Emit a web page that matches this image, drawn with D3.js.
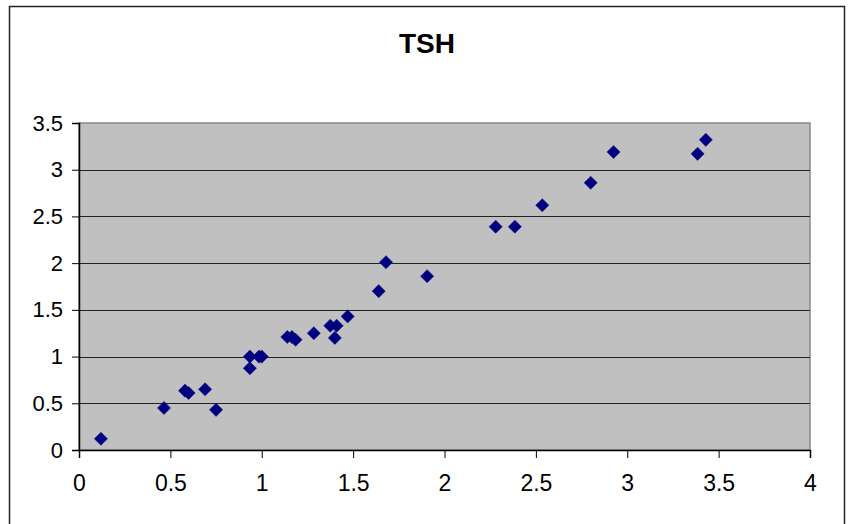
<!DOCTYPE html>
<html>
<head>
<meta charset="utf-8">
<script src="https://cdn.jsdelivr.net/npm/d3@7"></script>
<style>
  body { margin: 0; background: #fff; }
  text { font-family: Arial, "Liberation Sans", sans-serif; }
</style>
</head>
<body>
<div id="canvas"></div>
<script>
// TSH scatter
const xValues = [0.12, 0.465, 0.58, 0.60, 0.69, 0.75, 0.935, 0.935, 0.985, 1.0,
    1.14, 1.165, 1.185, 1.285, 1.375, 1.41, 1.40, 1.47, 1.64, 1.68,
    1.905, 2.28, 2.385, 2.535, 2.80, 2.925, 3.385, 3.43];
const yValues = [0.12, 0.45, 0.635, 0.61, 0.65, 0.43, 1.0, 0.875, 1.0, 1.0,
    1.21, 1.21, 1.18, 1.25, 1.33, 1.33, 1.20, 1.43, 1.70, 2.01,
    1.86, 2.39, 2.39, 2.62, 2.86, 3.19, 3.17, 3.32];
const xTicks = [0, 0.5, 1, 1.5, 2, 2.5, 3, 3.5, 4];
const yTicks = [0, 0.5, 1, 1.5, 2, 2.5, 3, 3.5];
const title = "TSH";

const width = 850;
const height = 524;
const margin = { top: 123, left: 79, bottom: 74, right: 40 };
const iwidth = width - margin.left - margin.right;
const iheight = height - margin.top - margin.bottom;

const svg = d3.select("#canvas").append("svg")
    .attr("width", width)
    .attr("height", height);

// outer chart frame
svg.append("rect")
    .attr("x", 9.5)
    .attr("y", 6.5)
    .attr("width", 835)
    .attr("height", 530)
    .style("fill", "#fff")
    .style("stroke", "#222")
    .style("stroke-width", 1.5);

svg.append("text")
    .attr("x", 427)
    .attr("y", 53)
    .attr("text-anchor", "middle")
    .style("font-size", "28px")
    .style("font-weight", "bold")
    .text(title);

const g = svg.append("g").attr("transform", `translate(${margin.left},${margin.top})`);

const x = d3.scaleLinear().domain([0, 4]).range([0, iwidth]);
const y = d3.scaleLinear().domain([0, 3.5]).range([iheight, 0]);

g.append("rect")
    .attr("width", iwidth)
    .attr("height", iheight)
    .style("fill", "#c0c0c0")
    .style("stroke", "#888")
    .style("stroke-width", 1.5);

g.selectAll(".grid").data(yTicks.filter(d => d > 0 && d < 3.5))
    .enter().append("line")
    .attr("class", "grid")
    .attr("x1", 0)
    .attr("x2", iwidth)
    .attr("y1", d => Math.round(y(d)) + 0.5)
    .attr("y2", d => Math.round(y(d)) + 0.5)
    .style("stroke", "#222")
    .style("stroke-width", 1);

const xAxis = g.append("g")
    .attr("transform", `translate(0, ${iheight})`)
    .call(d3.axisBottom(x).tickValues(xTicks).tickFormat(d3.format("")).tickSize(8).tickPadding(17));

const yAxis = g.append("g")
    .call(d3.axisLeft(y).tickValues(yTicks).tickFormat(d3.format("")).tickSize(7).tickPadding(9));

[xAxis, yAxis].forEach(a => {
    a.select(".domain").style("stroke", "#000").style("stroke-width", 1.5);
    a.selectAll(".tick line").style("stroke", "#000");
    a.selectAll("text").style("fill", "#000")
        .style("font-family", "Arial, 'Liberation Sans', sans-serif");
});
xAxis.selectAll("text").style("font-size", "23px");
yAxis.selectAll("text").style("font-size", "22px");

const points = xValues.map((v, i) => ({ x: v, y: yValues[i] }));

g.selectAll(".pt").data(points)
    .enter().append("path")
    .attr("class", "pt")
    .attr("d", d3.symbol().type(d3.symbolDiamond2).size(110))
    .attr("transform", d => `translate(${x(d.x)},${y(d.y)})`)
    .style("fill", "#000080")
    .style("stroke", "#000080")
    .style("stroke-width", 0.5);
</script>
</body>
</html>
